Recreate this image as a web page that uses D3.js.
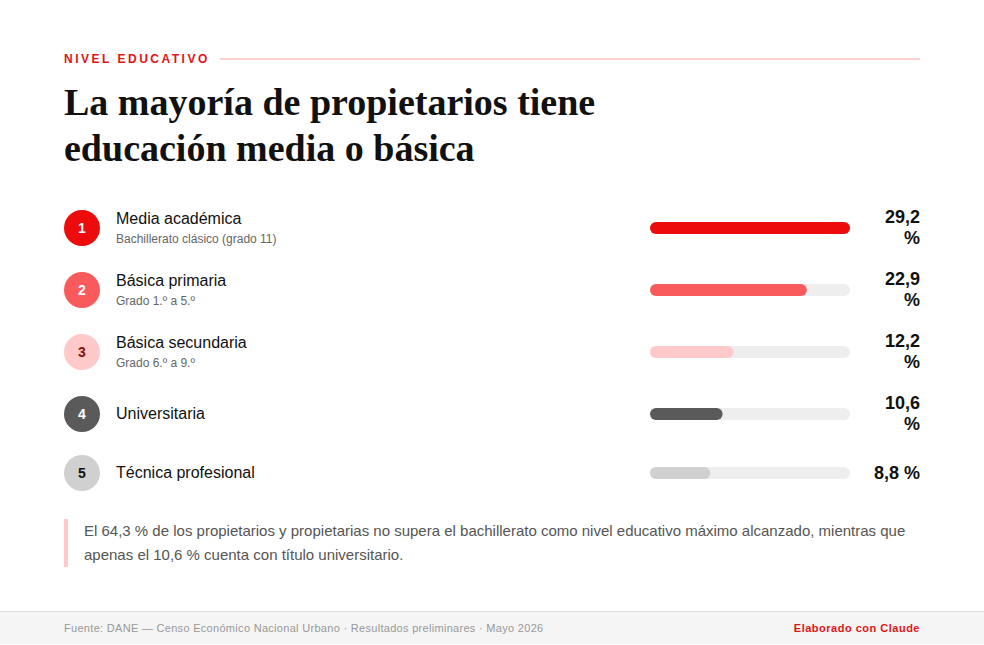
<!DOCTYPE html>
<html>
<head>
<meta charset="utf-8">
<script src="https://cdn.jsdelivr.net/npm/d3@7"></script>
<style>
  html, body { margin: 0; padding: 0; background: #fff; }
  svg { display: block; }
  text { font-family: "Liberation Sans", Arial, sans-serif; }
</style>
</head>
<body>
<script>
// Nivel educativo de propietarios, ranked bars
var categories = ["Media académica", "Básica primaria", "Básica secundaria", "Universitaria", "Técnica profesional"];
var subtitles  = ["Bachillerato clásico (grado 11)", "Grado 1.º a 5.º", "Grado 6.º a 9.º", "", ""];
var values     = [29.2, 22.9, 12.2, 10.6, 8.8];
var ranks      = ["1", "2", "3", "4", "5"];
var barColors  = ["#ec0c0c", "#f95a5c", "#ffc9c9", "#5a5a5a", "#d0d0d0"];
var rankColors = ["#ffffff", "#ffffff", "#8a0c0c", "#ffffff", "#111111"];
var rowCenters = [228, 290, 352, 414, 473];
var titleLines = ["La mayoría de propietarios tiene", "educación media o básica"];
var noteLines  = [
  "El 64,3 % de los propietarios y propietarias no supera el bachillerato como nivel educativo máximo alcanzado, mientras que",
  "apenas el 10,6 % cuenta con título universitario."
];

var width = 984, height = 645;
var svg = d3.select("body").append("svg").attr("width", width).attr("height", height);

var x = d3.scaleLinear().domain([0, 29.2]).range([650, 850]);
var rows = d3.range(categories.length);

// header
svg.append("text").attr("x", 64).attr("y", 63)
  .attr("font-size", 12).attr("font-weight", 700).attr("letter-spacing", 2.5)
  .attr("fill", "#e01515").text("NIVEL EDUCATIVO");
svg.append("rect").attr("x", 220).attr("y", 58).attr("width", 700).attr("height", 2).attr("fill", "#ffd0d0");

svg.selectAll(".title").data(titleLines).enter().append("text")
  .attr("class", "title")
  .attr("x", 64).attr("y", function(d, i) { return 115 + i * 46; })
  .style("font-family", "'Liberation Serif', serif")
  .attr("font-size", 38).attr("font-weight", 700).attr("fill", "#111111")
  .text(function(d) { return d; });

// rows
var row = svg.selectAll(".row").data(rows).enter().append("g").attr("class", "row");

row.append("circle").attr("cx", 82).attr("cy", function(i) { return rowCenters[i]; }).attr("r", 18)
  .attr("fill", function(i) { return barColors[i]; });
row.append("text").attr("x", 82).attr("y", function(i) { return rowCenters[i] + 5; })
  .attr("text-anchor", "middle").attr("font-size", 14).attr("font-weight", 700)
  .attr("fill", function(i) { return rankColors[i]; })
  .text(function(i) { return ranks[i]; });

row.append("text").attr("x", 116)
  .attr("y", function(i) { return rowCenters[i] + (subtitles[i] ? -4 : 5); })
  .attr("font-size", 16).attr("fill", "#111111")
  .text(function(i) { return categories[i]; });
row.filter(function(i) { return subtitles[i]; }).append("text").attr("x", 116)
  .attr("y", function(i) { return rowCenters[i] + 15; })
  .attr("font-size", 12).attr("fill", "#666666")
  .text(function(i) { return subtitles[i]; });

// bars
row.append("rect").attr("x", x(0)).attr("y", function(i) { return rowCenters[i] - 6; })
  .attr("width", x(29.2) - x(0)).attr("height", 12).attr("rx", 6).attr("fill", "#eeeeee");
row.append("rect").attr("x", x(0)).attr("y", function(i) { return rowCenters[i] - 6; })
  .attr("width", function(i) { return x(values[i]) - x(0); }).attr("height", 12).attr("rx", 6)
  .attr("fill", function(i) { return barColors[i]; });

// value labels wrap in the narrow column, except the shortest one
row.each(function(i) {
  var label = values[i].toFixed(1).replace(".", ",");
  var g = d3.select(this);
  var common = function(t) {
    t.attr("x", 920).attr("text-anchor", "end").attr("font-size", 18)
     .attr("font-weight", 700).attr("fill", "#111111");
  };
  if (values[i] >= 10) {
    g.append("text").call(common).attr("y", rowCenters[i] - 5).text(label);
    g.append("text").call(common).attr("y", rowCenters[i] + 16).text("%");
  } else {
    g.append("text").call(common).attr("y", rowCenters[i] + 6).text(label + " %");
  }
});

// note
svg.append("rect").attr("x", 64).attr("y", 519).attr("width", 4).attr("height", 48).attr("fill", "#ffc9c9");
svg.selectAll(".note").data(noteLines).enter().append("text")
  .attr("class", "note").attr("x", 84).attr("y", function(d, i) { return 536 + i * 24; })
  .attr("font-size", 15).attr("fill", "#555555")
  .text(function(d) { return d; });

// footer
svg.append("rect").attr("x", 0).attr("y", 611).attr("width", width).attr("height", 33).attr("fill", "#f5f5f5");
svg.append("rect").attr("x", 0).attr("y", 611).attr("width", width).attr("height", 1).attr("fill", "#e0e0e0");
svg.append("text").attr("x", 64).attr("y", 632)
  .attr("font-size", 11).attr("letter-spacing", 0.3).attr("fill", "#999999")
  .text("Fuente: DANE — Censo Económico Nacional Urbano · Resultados preliminares · Mayo 2026");
svg.append("text").attr("x", 920).attr("y", 632).attr("text-anchor", "end")
  .attr("font-size", 11).attr("font-weight", 700).attr("letter-spacing", 0.5).attr("fill", "#e01515")
  .text("Elaborado con Claude");
</script>
</body>
</html>
